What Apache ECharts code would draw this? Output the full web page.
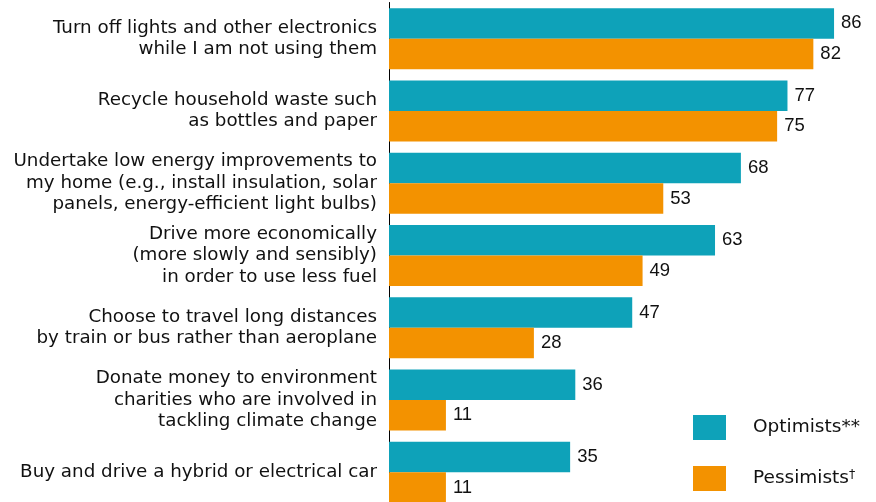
<!DOCTYPE html>
<html><head><meta charset="utf-8">
<script src="https://cdn.jsdelivr.net/npm/echarts@6/dist/echarts.min.js"></script>
<style>html,body{margin:0;padding:0;background:#fff;overflow:hidden}#c{width:876px;height:512px}</style>
</head><body><div id="c"></div>
<script>
var categories = [
  "Turn off lights and other electronics\nwhile I am not using them",
  "Recycle household waste such\nas bottles and paper",
  "Undertake low energy improvements to\nmy home (e.g., install insulation, solar\npanels, energy-efficient light bulbs)",
  "Drive more economically\n(more slowly and sensibly)\nin order to use less fuel",
  "Choose to travel long distances\nby train or bus rather than aeroplane",
  "Donate money to environment\ncharities who are involved in\ntackling climate change",
  "Buy and drive a hybrid or electrical car"
];
var optimists = [86, 77, 68, 63, 47, 36, 35];
var pessimists = [82, 75, 53, 49, 28, 11, 11];
var seriesNames = ["Optimists**", "Pessimists\u2020"];

var FONT = "DejaVu Sans";
var VFONT = "Liberation Sans";
var chart = echarts.init(document.getElementById('c'));
chart.setOption({
  animation: false,
  textStyle: {fontFamily: FONT},
  grid: {left: 389, top: 2.5, width: 465.75, height: 506},
  xAxis: {type: 'value', min: 0, max: 90, show: false},
  yAxis: {
    type: 'category', data: categories, inverse: true,
    axisLine: {show: true, lineStyle: {color: '#000', width: 1}},
    axisTick: {show: false},
    axisLabel: {fontSize: 18.3, color: '#111', lineHeight: 21.5, margin: 12, align: 'right', fontFamily: FONT}
  },
  legend: {
    orient: 'vertical', left: 693, top: 415, padding: 0,
    itemWidth: 33, itemHeight: 25, itemGap: 26,
    icon: 'rect',
    textStyle: {fontSize: 18.5, color: '#111', padding: [0,0,0,22], fontFamily: FONT,
      rich: {sup: {fontSize: 12.5, verticalAlign: 'top', padding: [0,0,8,0], fontFamily: FONT, color: '#111'}}},
    formatter: function (n) {
      if (n.indexOf('\u2020') >= 0) return n.replace('\u2020', '') + '{sup|\u2020}';
      return n;
    },
    data: seriesNames
  },
  series: [
    {name: seriesNames[0], type: 'bar', data: optimists, barWidth: 30.5, barGap: '0%',
     itemStyle: {color: '#0ea2b9'},
     label: {show: true, position: 'right', distance: 7, fontSize: 18.5, color: '#111', fontFamily: VFONT}},
    {name: seriesNames[1], type: 'bar', data: pessimists, barWidth: 30.5, barGap: '0%',
     itemStyle: {color: '#f39200'},
     label: {show: true, position: 'right', distance: 7, fontSize: 18.5, color: '#111', fontFamily: VFONT}}
  ]
});
</script></body></html>
